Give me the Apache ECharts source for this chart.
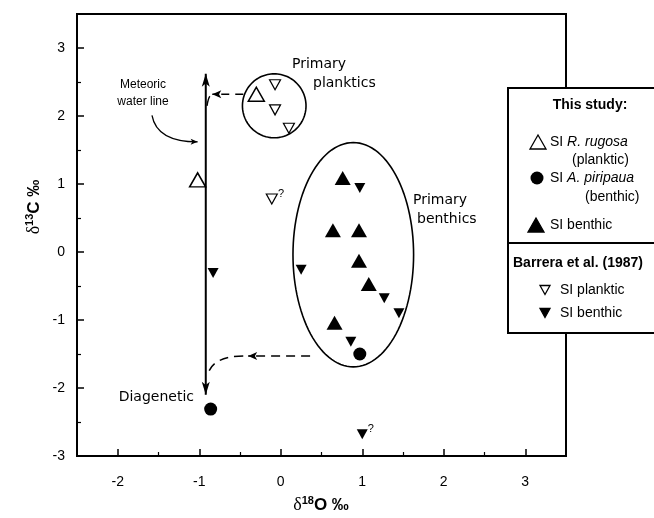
<!DOCTYPE html>
<html><head><meta charset="utf-8">
<script src="https://cdn.jsdelivr.net/npm/echarts@6/dist/echarts.min.js"></script>
<style>html,body{margin:0;padding:0;background:#fff}#c{width:654px;height:518px}</style>
</head><body><div id="c"></div><script>
// ---- tick values ----
const xTicks = [-2, -1, 0, 1, 2, 3];
const xMinorTicks = [-1.5, -0.5, 0.5, 1.5, 2.5];
const yTicks = [-3, -2, -1, 0, 1, 2, 3];
const yMinorTicks = [-2.5, -1.5, -0.5, 0.5, 1.5, 2.5];

// ---- data: [δ18O, δ13C] ----
const rugosaPlanktic = [[-0.30, 2.32], [-1.02, 1.06]];
const piripauaBenthic = [[0.97, -1.50], [-0.86, -2.31]];
const siBenthic = [[0.76, 1.09], [0.64, 0.32], [0.96, 0.32], [0.96, -0.13], [1.08, -0.47], [0.66, -1.04]];
const barreraPlanktic = [[-0.07, 2.46], [-0.07, 2.09], [0.10, 1.82], [-0.11, 0.78]];
const barreraPlankticNote = ['', '', '', '?'];
const barreraBenthic = [[0.97, 0.94], [0.25, -0.26], [1.27, -0.68], [1.45, -0.90], [0.86, -1.32], [-0.83, -0.31], [1.00, -2.68]];
const barreraBenthicNote = ['', '', '', '', '', '', '?'];

// ---- annotation geometry (data units): [cx, cy, rx, ry] ----
const planktonCircle = [-0.08, 2.15, 0.39, 0.47];
const benthicEllipse = [0.89, -0.04, 0.74, 1.65];
const meteoricLine = [[-0.92, 2.62], [-0.92, -2.10]];
const upperShift = [[-0.46, 2.32], [-0.84, 2.32]];
const upperBend = [[-0.87, 2.29], [-0.89, 2.26], [-0.905, 2.15]];
const lowerShift = [[0.36, -1.53], [-0.40, -1.53]];
const lowerBend = [[-0.46, -1.53], [-0.82, -1.53], [-0.89, -1.78]];
const meteoricPointer = [[-1.58, 2.01], [-1.52, 1.62], [-1.02, 1.62]];

const chart = echarts.init(document.getElementById('c'), null, {renderer: 'canvas'});

function arrowHead(tip, from, len, wid) {
  const dx = tip[0] - from[0], dy = tip[1] - from[1];
  const d = Math.hypot(dx, dy) || 1;
  const ux = dx / d, uy = dy / d, nx = -uy, ny = ux;
  const bx = tip[0] - ux * len, by = tip[1] - uy * len;
  const mx = tip[0] - ux * len * 0.75, my = tip[1] - uy * len * 0.75;
  return {type: 'polygon', shape: {points: [[tip[0], tip[1]], [bx + nx * wid / 2, by + ny * wid / 2], [mx, my], [bx - nx * wid / 2, by - ny * wid / 2]]},
    style: {fill: '#000', stroke: null}};
}

function pathSeries(pts, opt) {
  return {
    type: 'custom', coordinateSystem: 'cartesian2d', silent: true, z: 2,
    data: [pts[0]],
    renderItem: (params, api) => {
      const p = pts.map(q => api.coord(q));
      const style = {stroke: '#000', fill: null, lineWidth: opt.width || 1.5};
      if (opt.dash) style.lineDash = opt.dash;
      const children = [];
      if (p.length === 2) children.push({type: 'line', shape: {x1: p[0][0], y1: p[0][1], x2: p[1][0], y2: p[1][1]}, style});
      else children.push({type: 'bezierCurve', shape: {x1: p[0][0], y1: p[0][1], cpx1: p[1][0], cpy1: p[1][1], x2: p[2][0], y2: p[2][1]}, style});
      if (opt.arrowEnd) children.push(arrowHead(p[p.length - 1], p[p.length - 2], opt.len, opt.wid));
      if (opt.arrowStart) children.push(arrowHead(p[0], p[1], opt.len, opt.wid));
      return {type: 'group', children};
    }
  };
}

function ellipseSeries(e) {
  return {
    type: 'custom', coordinateSystem: 'cartesian2d', silent: true, z: 1,
    data: [[e[0], e[1]]],
    renderItem: (params, api) => {
      const pts = [];
      for (let i = 0; i <= 120; i++) {
        const t = i / 120 * 2 * Math.PI;
        pts.push(api.coord([e[0] + e[2] * Math.cos(t), e[1] + e[3] * Math.sin(t)]));
      }
      return {type: 'polyline', shape: {points: pts}, style: {fill: null, stroke: '#000', lineWidth: 1.6}};
    }
  };
}

const noteLabel = {position: 'right', distance: 0, offset: [0, -5], fontSize: 11, color: '#000', fontFamily: 'Liberation Sans'};

const baseFont = 'Liberation Sans';
const handFont = '"Comic Sans MS", "DejaVu Sans"';

function legendTri(cx, cy, w, h, down, filled) {
  const pts = down ? [[cx - w / 2, cy - h / 2], [cx + w / 2, cy - h / 2], [cx, cy + h / 2]]
                   : [[cx, cy - h / 2], [cx + w / 2, cy + h / 2], [cx - w / 2, cy + h / 2]];
  return {type: 'polygon', shape: {points: pts}, style: {fill: filled ? '#000' : '#fff', stroke: '#000', lineWidth: 1.3}, z: 101};
}
function legendText(x, y, text, extra) {
  return Object.assign({type: 'text', x, y, z: 101, style: Object.assign({text, fontSize: 14, fontFamily: baseFont, fill: '#000', verticalAlign: 'middle', align: 'left'}, extra || {})});
}

const option = {
  backgroundColor: '#fff',
  animation: false,
  grid: {left: 77, right: 88, top: 14, bottom: 62, show: true, borderColor: '#000', borderWidth: 2, backgroundColor: 'transparent'},
  xAxis: [
    {type: 'value', min: -2.5, max: 3.5, position: 'bottom',
      axisLine: {show: true, onZero: false, lineStyle: {color: '#000', width: 2}},
      axisTick: {show: true, inside: true, length: 7, lineStyle: {color: '#000', width: 1.5}, customValues: xTicks},
      axisLabel: {customValues: xTicks, fontSize: 14, color: '#000', fontFamily: baseFont, margin: 19},
      splitLine: {show: false}},
    {type: 'value', min: -2.5, max: 3.5, position: 'bottom',
      axisLine: {show: false, onZero: false},
      axisTick: {show: true, inside: true, length: 4, lineStyle: {color: '#000', width: 1.2}, customValues: xMinorTicks},
      axisLabel: {show: false}, splitLine: {show: false}}
  ],
  yAxis: [
    {type: 'value', min: -3, max: 3.5, position: 'left',
      axisLine: {show: true, onZero: false, lineStyle: {color: '#000', width: 2}},
      axisTick: {show: true, inside: true, length: 7, lineStyle: {color: '#000', width: 1.5}, customValues: yTicks},
      axisLabel: {customValues: yTicks, fontSize: 14, color: '#000', fontFamily: baseFont, margin: 12},
      splitLine: {show: false}},
    {type: 'value', min: -3, max: 3.5, position: 'left',
      axisLine: {show: false, onZero: false},
      axisTick: {show: true, inside: true, length: 4, lineStyle: {color: '#000', width: 1.2}, customValues: yMinorTicks},
      axisLabel: {show: false}, splitLine: {show: false}}
  ],
  series: [
    ellipseSeries(planktonCircle),
    ellipseSeries(benthicEllipse),
    pathSeries(meteoricLine, {width: 2, arrowStart: true, arrowEnd: true, len: 13, wid: 8}),
    pathSeries(upperShift, {width: 1.6, dash: [8, 6], arrowEnd: true, len: 9, wid: 8}),
    pathSeries(upperBend, {width: 1.4}),
    pathSeries(lowerShift, {width: 1.6, dash: [9, 6], arrowEnd: true, len: 9, wid: 8}),
    pathSeries(lowerBend, {width: 1.5, dash: [9, 6]}),
    pathSeries(meteoricPointer, {width: 1.3, arrowEnd: true, len: 7, wid: 6}),
    {name: 'SI R. rugosa', type: 'scatter', z: 5, symbol: 'triangle', symbolSize: [16, 14],
      itemStyle: {color: '#fff', borderColor: '#000', borderWidth: 1.5, opacity: 1}, data: rugosaPlanktic},
    {name: 'SI A. piripaua', type: 'scatter', z: 5, symbol: 'circle', symbolSize: 13,
      itemStyle: {color: '#000', opacity: 1}, data: piripauaBenthic},
    {name: 'SI benthic', type: 'scatter', z: 5, symbol: 'triangle', symbolSize: [16, 14],
      itemStyle: {color: '#000', opacity: 1}, data: siBenthic},
    {name: 'Barrera SI planktic', type: 'scatter', z: 5, symbol: 'triangle', symbolRotate: 180, symbolSize: [11, 10],
      itemStyle: {color: '#fff', borderColor: '#000', borderWidth: 1.2, opacity: 1}, label: noteLabel,
      data: barreraPlanktic.map((v, i) => ({value: v, label: {show: !!barreraPlankticNote[i], formatter: barreraPlankticNote[i] || ''}}))},
    {name: 'Barrera SI benthic', type: 'scatter', z: 5, symbol: 'triangle', symbolRotate: 180, symbolSize: [11, 10],
      itemStyle: {color: '#000', opacity: 1}, label: noteLabel,
      data: barreraBenthic.map((v, i) => ({value: v, label: {show: !!barreraBenthicNote[i], formatter: barreraBenthicNote[i] || ''}}))}
  ],
  graphic: [
    // axis titles
    {type: 'text', x: 321, y: 505, z: 50, style: {
      text: '{d|δ}{s|18}{b|O ‰}', align: 'center', verticalAlign: 'middle', fill: '#000',
      rich: {d: {fontFamily: 'Liberation Serif', fontSize: 18, lineHeight: 20, fill: '#000'},
             s: {fontFamily: baseFont, fontWeight: 'bold', fontSize: 11, lineHeight: 12, verticalAlign: 'top', fill: '#000'},
             b: {fontFamily: baseFont, fontWeight: 'bold', fontSize: 17, lineHeight: 20, fill: '#000'}}}},
    {type: 'text', x: 34, y: 207, rotation: Math.PI / 2, z: 50, style: {
      text: '{d|δ}{s|13}{b|C ‰}', align: 'center', verticalAlign: 'middle', fill: '#000',
      rich: {d: {fontFamily: 'Liberation Serif', fontSize: 18, lineHeight: 20, fill: '#000'},
             s: {fontFamily: baseFont, fontWeight: 'bold', fontSize: 11, lineHeight: 12, verticalAlign: 'top', fill: '#000'},
             b: {fontFamily: baseFont, fontWeight: 'bold', fontSize: 17, lineHeight: 20, fill: '#000'}}}},
    // annotations
    {type: 'text', x: 143, y: 85, z: 50, style: {text: 'Meteoric', fontSize: 12, fontFamily: baseFont, fill: '#000', align: 'center', verticalAlign: 'middle'}},
    {type: 'text', x: 143, y: 102, z: 50, style: {text: 'water line', fontSize: 12, fontFamily: baseFont, fill: '#000', align: 'center', verticalAlign: 'middle'}},
    {type: 'text', x: 292, y: 64, z: 50, style: {text: 'Primary', fontSize: 14, fontFamily: handFont, fill: '#000', align: 'left', verticalAlign: 'middle'}},
    {type: 'text', x: 313, y: 83, z: 50, style: {text: 'planktics', fontSize: 14, fontFamily: handFont, fill: '#000', align: 'left', verticalAlign: 'middle'}},
    {type: 'text', x: 413, y: 200, z: 50, style: {text: 'Primary', fontSize: 14, fontFamily: handFont, fill: '#000', align: 'left', verticalAlign: 'middle'}},
    {type: 'text', x: 417, y: 219, z: 50, style: {text: 'benthics', fontSize: 14, fontFamily: handFont, fill: '#000', align: 'left', verticalAlign: 'middle'}},
    {type: 'text', x: 194, y: 397, z: 50, style: {text: 'Diagenetic', fontSize: 14, fontFamily: handFont, fill: '#000', align: 'right', verticalAlign: 'middle'}},
    // legend box
    {type: 'rect', z: 100, shape: {x: 508, y: 88, width: 170, height: 245}, style: {fill: '#fff', stroke: '#000', lineWidth: 2}},
    {type: 'line', z: 101, shape: {x1: 508, y1: 243, x2: 660, y2: 243}, style: {stroke: '#000', lineWidth: 2}},
    legendText(590, 105, 'This study:', {fontWeight: 'bold', align: 'center'}),
    legendTri(538, 142, 16, 14, false, false),
    legendText(550, 142, '{n|SI }{i|R. rugosa}', {rich: {n: {fontSize: 14, fontFamily: baseFont, fill: '#000'}, i: {fontSize: 14, fontFamily: baseFont, fontStyle: 'italic', fill: '#000'}}}),
    legendText(572, 160, '(planktic)'),
    {type: 'circle', z: 101, shape: {cx: 537, cy: 178, r: 6.5}, style: {fill: '#000'}},
    legendText(550, 178, '{n|SI }{i|A. piripaua}', {rich: {n: {fontSize: 14, fontFamily: baseFont, fill: '#000'}, i: {fontSize: 14, fontFamily: baseFont, fontStyle: 'italic', fill: '#000'}}}),
    legendText(585, 197, '(benthic)'),
    legendTri(536, 225, 16, 14, false, true),
    legendText(550, 225, 'SI benthic'),
    legendText(513, 263, 'Barrera et al. (1987)', {fontWeight: 'bold'}),
    legendTri(545, 290, 10, 9, true, false),
    legendText(560, 290, 'SI planktic'),
    legendTri(545, 313, 10, 9, true, true),
    legendText(560, 313, 'SI benthic')
  ]
};
chart.setOption(option);
</script></body></html>
